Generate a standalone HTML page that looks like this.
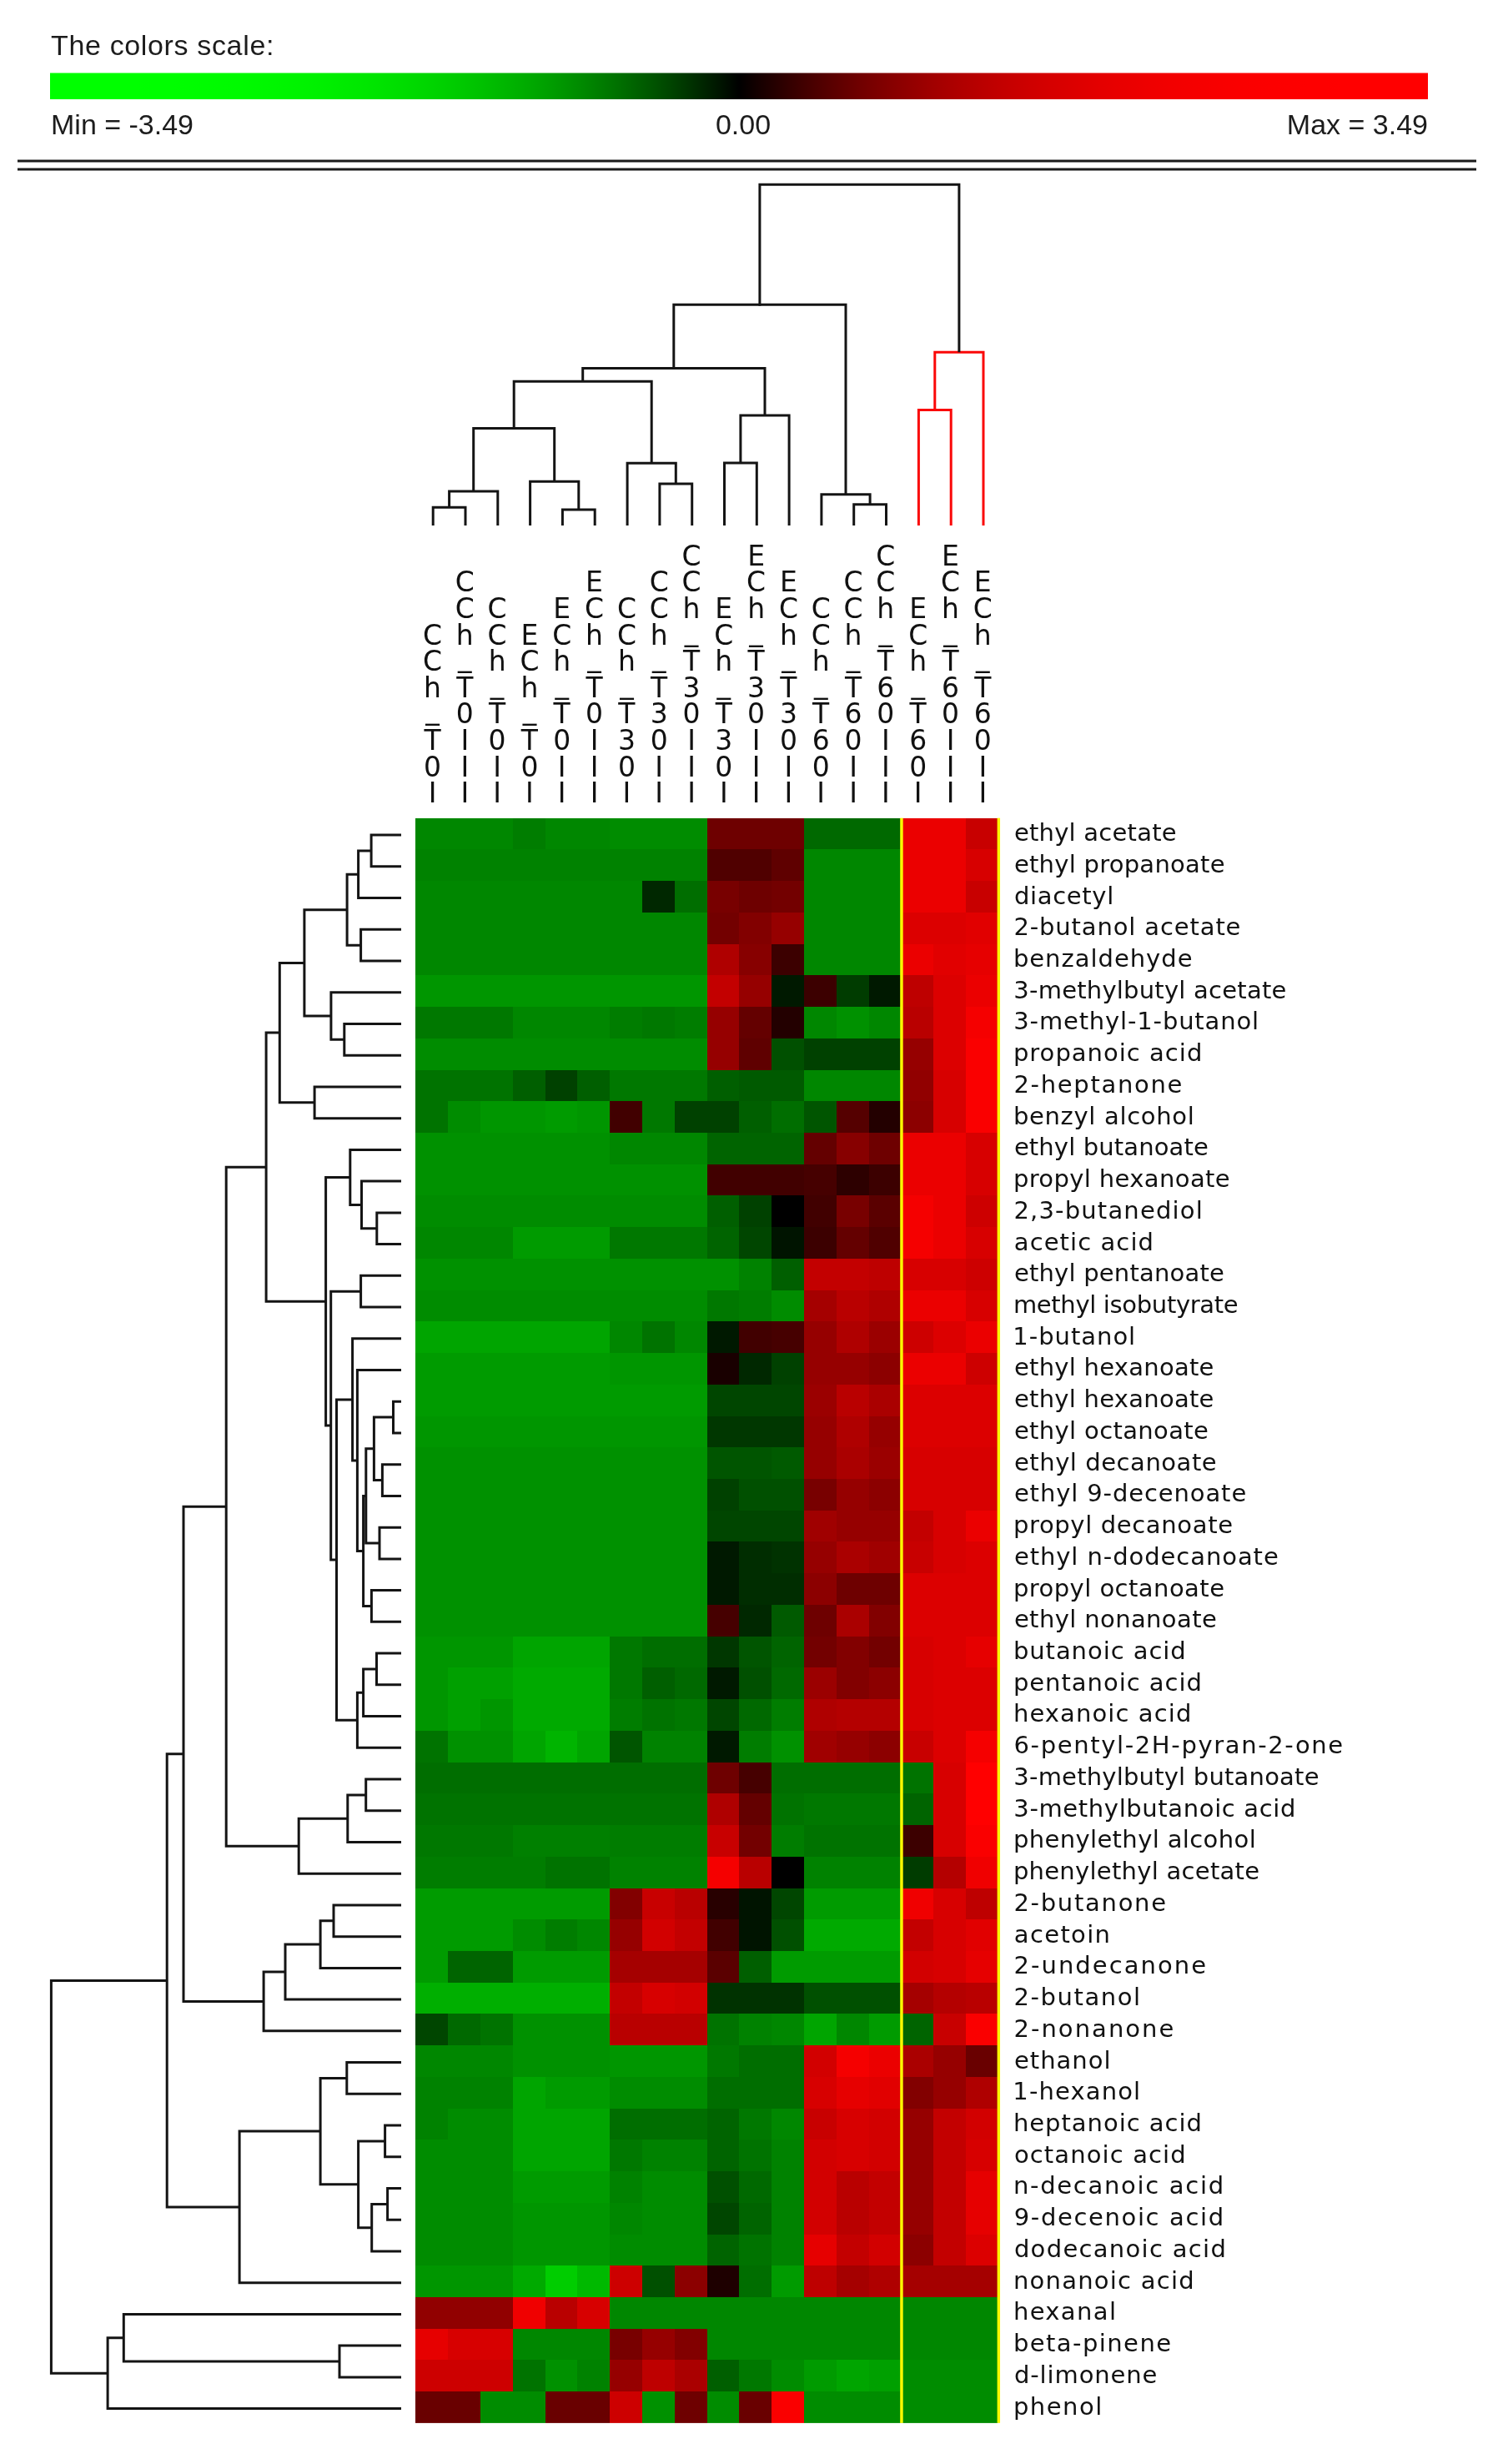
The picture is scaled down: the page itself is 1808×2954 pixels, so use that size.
<!DOCTYPE html>
<html lang="en"><head><meta charset="utf-8"><title>Heatmap</title>
<style>html,body{margin:0;padding:0;background:#fff}svg{display:block;filter:blur(0.55px)}.h{font-family:"Liberation Sans",Arial,sans-serif;font-size:34px;fill:#1c1c1c}.r{font-family:"DejaVu Sans","Liberation Sans",sans-serif;font-size:29px;fill:#111}.c{font-family:"DejaVu Sans","Liberation Sans",sans-serif;font-size:33px;fill:#111;text-anchor:middle}.d{stroke:#141414;stroke-width:3;fill:none;stroke-linecap:square}.dr{stroke:#fa0808;stroke-width:3;fill:none;stroke-linecap:square}</style></head><body>
<svg width="1808" height="2954" viewBox="0 0 1808 2954">
<rect width="1808" height="2954" fill="#fff"/>
<defs><linearGradient id="cs" x1="0" x2="1" y1="0" y2="0">
<stop offset="0.0000" stop-color="#00ff00"/>
<stop offset="0.0125" stop-color="#00ff00"/>
<stop offset="0.0250" stop-color="#00ff00"/>
<stop offset="0.0375" stop-color="#00ff00"/>
<stop offset="0.0500" stop-color="#00ff00"/>
<stop offset="0.0625" stop-color="#00ff00"/>
<stop offset="0.0750" stop-color="#00fe00"/>
<stop offset="0.0875" stop-color="#00fe00"/>
<stop offset="0.1000" stop-color="#00fd00"/>
<stop offset="0.1125" stop-color="#00fc00"/>
<stop offset="0.1250" stop-color="#00fb00"/>
<stop offset="0.1375" stop-color="#00fa00"/>
<stop offset="0.1500" stop-color="#00f800"/>
<stop offset="0.1625" stop-color="#00f600"/>
<stop offset="0.1750" stop-color="#00f400"/>
<stop offset="0.1875" stop-color="#00f200"/>
<stop offset="0.2000" stop-color="#00ef00"/>
<stop offset="0.2125" stop-color="#00eb00"/>
<stop offset="0.2250" stop-color="#00e800"/>
<stop offset="0.2375" stop-color="#00e400"/>
<stop offset="0.2500" stop-color="#00df00"/>
<stop offset="0.2625" stop-color="#00da00"/>
<stop offset="0.2750" stop-color="#00d500"/>
<stop offset="0.2875" stop-color="#00cf00"/>
<stop offset="0.3000" stop-color="#00c800"/>
<stop offset="0.3125" stop-color="#00c100"/>
<stop offset="0.3250" stop-color="#00b900"/>
<stop offset="0.3375" stop-color="#00b100"/>
<stop offset="0.3500" stop-color="#00a800"/>
<stop offset="0.3625" stop-color="#009e00"/>
<stop offset="0.3750" stop-color="#009300"/>
<stop offset="0.3875" stop-color="#008800"/>
<stop offset="0.4000" stop-color="#007c00"/>
<stop offset="0.4125" stop-color="#007000"/>
<stop offset="0.4250" stop-color="#006200"/>
<stop offset="0.4375" stop-color="#005400"/>
<stop offset="0.4500" stop-color="#004500"/>
<stop offset="0.4625" stop-color="#003500"/>
<stop offset="0.4750" stop-color="#002400"/>
<stop offset="0.4875" stop-color="#001300"/>
<stop offset="0.5000" stop-color="#000000"/>
<stop offset="0.5125" stop-color="#130000"/>
<stop offset="0.5250" stop-color="#240000"/>
<stop offset="0.5375" stop-color="#350000"/>
<stop offset="0.5500" stop-color="#450000"/>
<stop offset="0.5625" stop-color="#540000"/>
<stop offset="0.5750" stop-color="#620000"/>
<stop offset="0.5875" stop-color="#700000"/>
<stop offset="0.6000" stop-color="#7c0000"/>
<stop offset="0.6125" stop-color="#880000"/>
<stop offset="0.6250" stop-color="#930000"/>
<stop offset="0.6375" stop-color="#9e0000"/>
<stop offset="0.6500" stop-color="#a80000"/>
<stop offset="0.6625" stop-color="#b10000"/>
<stop offset="0.6750" stop-color="#b90000"/>
<stop offset="0.6875" stop-color="#c10000"/>
<stop offset="0.7000" stop-color="#c80000"/>
<stop offset="0.7125" stop-color="#cf0000"/>
<stop offset="0.7250" stop-color="#d50000"/>
<stop offset="0.7375" stop-color="#da0000"/>
<stop offset="0.7500" stop-color="#df0000"/>
<stop offset="0.7625" stop-color="#e40000"/>
<stop offset="0.7750" stop-color="#e80000"/>
<stop offset="0.7875" stop-color="#eb0000"/>
<stop offset="0.8000" stop-color="#ef0000"/>
<stop offset="0.8125" stop-color="#f20000"/>
<stop offset="0.8250" stop-color="#f40000"/>
<stop offset="0.8375" stop-color="#f60000"/>
<stop offset="0.8500" stop-color="#f80000"/>
<stop offset="0.8625" stop-color="#fa0000"/>
<stop offset="0.8750" stop-color="#fb0000"/>
<stop offset="0.8875" stop-color="#fc0000"/>
<stop offset="0.9000" stop-color="#fd0000"/>
<stop offset="0.9125" stop-color="#fe0000"/>
<stop offset="0.9250" stop-color="#fe0000"/>
<stop offset="0.9375" stop-color="#ff0000"/>
<stop offset="0.9500" stop-color="#ff0000"/>
<stop offset="0.9625" stop-color="#ff0000"/>
<stop offset="0.9750" stop-color="#ff0000"/>
<stop offset="0.9875" stop-color="#ff0000"/>
<stop offset="1.0000" stop-color="#ff0000"/>
</linearGradient></defs>
<text class="h" x="61" y="65.5" letter-spacing="0.65">The colors scale:</text>
<rect x="60" y="87.5" width="1652" height="31.5" fill="url(#cs)"/>
<text class="h" x="61" y="160.5">Min = -3.49</text>
<text class="h" x="891" y="160.5" text-anchor="middle">0.00</text>
<text class="h" x="1712" y="160.5" text-anchor="end">Max = 3.49</text>
<rect x="21" y="191.5" width="1749" height="3" fill="#1a1a1a"/>
<rect x="21" y="201.5" width="1749" height="3" fill="#1a1a1a"/>
<path class="d" d="M519.2 628.5V608.3H558.0V628.5M538.6 608.3V589.0H596.8V628.5M674.4 628.5V611.0H713.2V628.5M635.6 628.5V577.3H693.8V611.0M567.7 589.0V513.4H664.7V577.3M790.9 628.5V580.0H829.7V628.5M752.1 628.5V555.3H810.3V580.0M616.2 513.4V457.3H781.2V555.3M868.5 628.5V554.9H907.3V628.5M887.9 554.9V497.9H946.1V628.5M698.7 457.3V441.5H917.0V497.9M1023.7 628.5V604.8H1062.5V628.5M984.9 628.5V592.8H1043.1V604.8M807.8 441.5V365.3H1014.0V592.8"/>
<path class="dr" d="M1101.4 628.5V491.5H1140.2V628.5M1120.8 491.5V422.3H1179.0V628.5"/>
<path class="d" d="M910.9 365.3V221.2H1149.9V420.8"/>
<text class="c" x="518.5 518.5 518.5 518.5 518.5 518.5 518.5" y="772.5 804.1 835.8 862.4 899.0 930.7 962.3">CCh_T0I</text>
<text class="c" x="557.3 557.3 557.3 557.3 557.3 557.3 557.3 557.3 557.3" y="709.3 740.9 772.5 799.1 835.8 867.4 899.0 930.7 962.3">CCh_T0III</text>
<text class="c" x="596.1 596.1 596.1 596.1 596.1 596.1 596.1 596.1" y="740.9 772.5 804.1 830.8 867.4 899.0 930.7 962.3">CCh_T0II</text>
<text class="c" x="634.9 634.9 634.9 634.9 634.9 634.9 634.9" y="772.5 804.1 835.8 862.4 899.0 930.7 962.3">ECh_T0I</text>
<text class="c" x="673.7 673.7 673.7 673.7 673.7 673.7 673.7 673.7" y="740.9 772.5 804.1 830.8 867.4 899.0 930.7 962.3">ECh_T0II</text>
<text class="c" x="712.5 712.5 712.5 712.5 712.5 712.5 712.5 712.5 712.5" y="709.3 740.9 772.5 799.1 835.8 867.4 899.0 930.7 962.3">ECh_T0III</text>
<text class="c" x="751.4 751.4 751.4 751.4 751.4 751.4 751.4 751.4" y="740.9 772.5 804.1 830.8 867.4 899.0 930.7 962.3">CCh_T30I</text>
<text class="c" x="790.2 790.2 790.2 790.2 790.2 790.2 790.2 790.2 790.2" y="709.3 740.9 772.5 799.1 835.8 867.4 899.0 930.7 962.3">CCh_T30II</text>
<text class="c" x="829.0 829.0 829.0 829.0 829.0 829.0 829.0 829.0 829.0 829.0" y="677.6 709.3 740.9 767.5 804.1 835.8 867.4 899.0 930.7 962.3">CCh_T30III</text>
<text class="c" x="867.8 867.8 867.8 867.8 867.8 867.8 867.8 867.8" y="740.9 772.5 804.1 830.8 867.4 899.0 930.7 962.3">ECh_T30I</text>
<text class="c" x="906.6 906.6 906.6 906.6 906.6 906.6 906.6 906.6 906.6 906.6" y="677.6 709.3 740.9 767.5 804.1 835.8 867.4 899.0 930.7 962.3">ECh_T30III</text>
<text class="c" x="945.4 945.4 945.4 945.4 945.4 945.4 945.4 945.4 945.4" y="709.3 740.9 772.5 799.1 835.8 867.4 899.0 930.7 962.3">ECh_T30II</text>
<text class="c" x="984.2 984.2 984.2 984.2 984.2 984.2 984.2 984.2" y="740.9 772.5 804.1 830.8 867.4 899.0 930.7 962.3">CCh_T60I</text>
<text class="c" x="1023.0 1023.0 1023.0 1023.0 1023.0 1023.0 1023.0 1023.0 1023.0" y="709.3 740.9 772.5 799.1 835.8 867.4 899.0 930.7 962.3">CCh_T60II</text>
<text class="c" x="1061.8 1061.8 1061.8 1061.8 1061.8 1061.8 1061.8 1061.8 1061.8 1061.8" y="677.6 709.3 740.9 767.5 804.1 835.8 867.4 899.0 930.7 962.3">CCh_T60III</text>
<text class="c" x="1100.7 1100.7 1100.7 1100.7 1100.7 1100.7 1100.7 1100.7" y="740.9 772.5 804.1 830.8 867.4 899.0 930.7 962.3">ECh_T60I</text>
<text class="c" x="1139.5 1139.5 1139.5 1139.5 1139.5 1139.5 1139.5 1139.5 1139.5 1139.5" y="677.6 709.3 740.9 767.5 804.1 835.8 867.4 899.0 930.7 962.3">ECh_T60III</text>
<text class="c" x="1178.3 1178.3 1178.3 1178.3 1178.3 1178.3 1178.3 1178.3 1178.3" y="709.3 740.9 772.5 799.1 835.8 867.4 899.0 930.7 962.3">ECh_T60II</text>
<g shape-rendering="crispEdges">
<rect x="498.30" y="980.70" width="116.93" height="38.23" fill="#008700"/>
<rect x="614.73" y="980.70" width="39.31" height="38.23" fill="#007d00"/>
<rect x="653.54" y="980.70" width="78.12" height="38.23" fill="#008700"/>
<rect x="731.16" y="980.70" width="116.93" height="38.23" fill="#008c00"/>
<rect x="847.59" y="980.70" width="116.93" height="38.23" fill="#6e0000"/>
<rect x="964.02" y="980.70" width="116.93" height="38.23" fill="#006900"/>
<rect x="1080.45" y="980.70" width="78.12" height="38.23" fill="#eb0000"/>
<rect x="1158.07" y="980.70" width="39.31" height="38.23" fill="#c80000"/>
<rect x="498.30" y="1018.43" width="349.79" height="38.23" fill="#008200"/>
<rect x="847.59" y="1018.43" width="78.12" height="38.23" fill="#500000"/>
<rect x="925.21" y="1018.43" width="39.31" height="38.23" fill="#5f0000"/>
<rect x="964.02" y="1018.43" width="116.93" height="38.23" fill="#008700"/>
<rect x="1080.45" y="1018.43" width="78.12" height="38.23" fill="#eb0000"/>
<rect x="1158.07" y="1018.43" width="39.31" height="38.23" fill="#d70000"/>
<rect x="498.30" y="1056.16" width="272.17" height="38.23" fill="#008700"/>
<rect x="769.97" y="1056.16" width="39.31" height="38.23" fill="#002800"/>
<rect x="808.78" y="1056.16" width="39.31" height="38.23" fill="#006e00"/>
<rect x="847.59" y="1056.16" width="39.31" height="38.23" fill="#780000"/>
<rect x="886.40" y="1056.16" width="39.31" height="38.23" fill="#6e0000"/>
<rect x="925.21" y="1056.16" width="39.31" height="38.23" fill="#730000"/>
<rect x="964.02" y="1056.16" width="116.93" height="38.23" fill="#008700"/>
<rect x="1080.45" y="1056.16" width="78.12" height="38.23" fill="#eb0000"/>
<rect x="1158.07" y="1056.16" width="39.31" height="38.23" fill="#c80000"/>
<rect x="498.30" y="1093.89" width="349.79" height="38.23" fill="#008700"/>
<rect x="847.59" y="1093.89" width="39.31" height="38.23" fill="#730000"/>
<rect x="886.40" y="1093.89" width="39.31" height="38.23" fill="#820000"/>
<rect x="925.21" y="1093.89" width="39.31" height="38.23" fill="#960000"/>
<rect x="964.02" y="1093.89" width="116.93" height="38.23" fill="#008700"/>
<rect x="1080.45" y="1093.89" width="78.12" height="38.23" fill="#dc0000"/>
<rect x="1158.07" y="1093.89" width="39.31" height="38.23" fill="#e10000"/>
<rect x="498.30" y="1131.62" width="349.79" height="38.23" fill="#008700"/>
<rect x="847.59" y="1131.62" width="39.31" height="38.23" fill="#af0000"/>
<rect x="886.40" y="1131.62" width="39.31" height="38.23" fill="#870000"/>
<rect x="925.21" y="1131.62" width="39.31" height="38.23" fill="#3c0000"/>
<rect x="964.02" y="1131.62" width="116.93" height="38.23" fill="#008700"/>
<rect x="1080.45" y="1131.62" width="39.31" height="38.23" fill="#eb0000"/>
<rect x="1119.26" y="1131.62" width="39.31" height="38.23" fill="#e10000"/>
<rect x="1158.07" y="1131.62" width="39.31" height="38.23" fill="#e60000"/>
<rect x="498.30" y="1169.35" width="349.79" height="38.23" fill="#009600"/>
<rect x="847.59" y="1169.35" width="39.31" height="38.23" fill="#c30000"/>
<rect x="886.40" y="1169.35" width="39.31" height="38.23" fill="#960000"/>
<rect x="925.21" y="1169.35" width="39.31" height="38.23" fill="#001900"/>
<rect x="964.02" y="1169.35" width="39.31" height="38.23" fill="#3c0000"/>
<rect x="1002.83" y="1169.35" width="39.31" height="38.23" fill="#003c00"/>
<rect x="1041.64" y="1169.35" width="39.31" height="38.23" fill="#001900"/>
<rect x="1080.45" y="1169.35" width="39.31" height="38.23" fill="#be0000"/>
<rect x="1119.26" y="1169.35" width="39.31" height="38.23" fill="#dc0000"/>
<rect x="1158.07" y="1169.35" width="39.31" height="38.23" fill="#eb0000"/>
<rect x="498.30" y="1207.08" width="116.93" height="38.23" fill="#007800"/>
<rect x="614.73" y="1207.08" width="116.93" height="38.23" fill="#008700"/>
<rect x="731.16" y="1207.08" width="39.31" height="38.23" fill="#007d00"/>
<rect x="769.97" y="1207.08" width="39.31" height="38.23" fill="#007800"/>
<rect x="808.78" y="1207.08" width="39.31" height="38.23" fill="#007d00"/>
<rect x="847.59" y="1207.08" width="39.31" height="38.23" fill="#960000"/>
<rect x="886.40" y="1207.08" width="39.31" height="38.23" fill="#640000"/>
<rect x="925.21" y="1207.08" width="39.31" height="38.23" fill="#230000"/>
<rect x="964.02" y="1207.08" width="39.31" height="38.23" fill="#008700"/>
<rect x="1002.83" y="1207.08" width="39.31" height="38.23" fill="#009100"/>
<rect x="1041.64" y="1207.08" width="39.31" height="38.23" fill="#008700"/>
<rect x="1080.45" y="1207.08" width="39.31" height="38.23" fill="#b90000"/>
<rect x="1119.26" y="1207.08" width="39.31" height="38.23" fill="#dc0000"/>
<rect x="1158.07" y="1207.08" width="39.31" height="38.23" fill="#f50000"/>
<rect x="498.30" y="1244.81" width="349.79" height="38.23" fill="#008c00"/>
<rect x="847.59" y="1244.81" width="39.31" height="38.23" fill="#960000"/>
<rect x="886.40" y="1244.81" width="39.31" height="38.23" fill="#5f0000"/>
<rect x="925.21" y="1244.81" width="39.31" height="38.23" fill="#005000"/>
<rect x="964.02" y="1244.81" width="116.93" height="38.23" fill="#004100"/>
<rect x="1080.45" y="1244.81" width="39.31" height="38.23" fill="#960000"/>
<rect x="1119.26" y="1244.81" width="39.31" height="38.23" fill="#dc0000"/>
<rect x="1158.07" y="1244.81" width="39.31" height="38.23" fill="#fa0000"/>
<rect x="498.30" y="1282.54" width="116.93" height="38.23" fill="#007300"/>
<rect x="614.73" y="1282.54" width="39.31" height="38.23" fill="#005f00"/>
<rect x="653.54" y="1282.54" width="39.31" height="38.23" fill="#004100"/>
<rect x="692.35" y="1282.54" width="39.31" height="38.23" fill="#005f00"/>
<rect x="731.16" y="1282.54" width="116.93" height="38.23" fill="#007800"/>
<rect x="847.59" y="1282.54" width="39.31" height="38.23" fill="#005f00"/>
<rect x="886.40" y="1282.54" width="78.12" height="38.23" fill="#005a00"/>
<rect x="964.02" y="1282.54" width="116.93" height="38.23" fill="#008700"/>
<rect x="1080.45" y="1282.54" width="39.31" height="38.23" fill="#910000"/>
<rect x="1119.26" y="1282.54" width="39.31" height="38.23" fill="#d70000"/>
<rect x="1158.07" y="1282.54" width="39.31" height="38.23" fill="#fa0000"/>
<rect x="498.30" y="1320.27" width="39.31" height="38.23" fill="#007300"/>
<rect x="537.11" y="1320.27" width="39.31" height="38.23" fill="#008c00"/>
<rect x="575.92" y="1320.27" width="78.12" height="38.23" fill="#009600"/>
<rect x="653.54" y="1320.27" width="39.31" height="38.23" fill="#009b00"/>
<rect x="692.35" y="1320.27" width="39.31" height="38.23" fill="#009600"/>
<rect x="731.16" y="1320.27" width="39.31" height="38.23" fill="#410000"/>
<rect x="769.97" y="1320.27" width="39.31" height="38.23" fill="#007800"/>
<rect x="808.78" y="1320.27" width="78.12" height="38.23" fill="#004100"/>
<rect x="886.40" y="1320.27" width="39.31" height="38.23" fill="#005f00"/>
<rect x="925.21" y="1320.27" width="39.31" height="38.23" fill="#006e00"/>
<rect x="964.02" y="1320.27" width="39.31" height="38.23" fill="#005500"/>
<rect x="1002.83" y="1320.27" width="39.31" height="38.23" fill="#550000"/>
<rect x="1041.64" y="1320.27" width="39.31" height="38.23" fill="#230000"/>
<rect x="1080.45" y="1320.27" width="39.31" height="38.23" fill="#8c0000"/>
<rect x="1119.26" y="1320.27" width="39.31" height="38.23" fill="#d70000"/>
<rect x="1158.07" y="1320.27" width="39.31" height="38.23" fill="#fa0000"/>
<rect x="498.30" y="1358.00" width="233.36" height="38.23" fill="#009100"/>
<rect x="731.16" y="1358.00" width="116.93" height="38.23" fill="#008700"/>
<rect x="847.59" y="1358.00" width="116.93" height="38.23" fill="#006400"/>
<rect x="964.02" y="1358.00" width="39.31" height="38.23" fill="#640000"/>
<rect x="1002.83" y="1358.00" width="39.31" height="38.23" fill="#870000"/>
<rect x="1041.64" y="1358.00" width="39.31" height="38.23" fill="#6e0000"/>
<rect x="1080.45" y="1358.00" width="78.12" height="38.23" fill="#eb0000"/>
<rect x="1158.07" y="1358.00" width="39.31" height="38.23" fill="#d70000"/>
<rect x="498.30" y="1395.73" width="349.79" height="38.23" fill="#009100"/>
<rect x="847.59" y="1395.73" width="116.93" height="38.23" fill="#410000"/>
<rect x="964.02" y="1395.73" width="39.31" height="38.23" fill="#460000"/>
<rect x="1002.83" y="1395.73" width="39.31" height="38.23" fill="#2d0000"/>
<rect x="1041.64" y="1395.73" width="39.31" height="38.23" fill="#3c0000"/>
<rect x="1080.45" y="1395.73" width="78.12" height="38.23" fill="#eb0000"/>
<rect x="1158.07" y="1395.73" width="39.31" height="38.23" fill="#d70000"/>
<rect x="498.30" y="1433.46" width="349.79" height="38.23" fill="#008c00"/>
<rect x="847.59" y="1433.46" width="39.31" height="38.23" fill="#005f00"/>
<rect x="886.40" y="1433.46" width="39.31" height="38.23" fill="#004100"/>
<rect x="925.21" y="1433.46" width="39.31" height="38.23" fill="#000000"/>
<rect x="964.02" y="1433.46" width="39.31" height="38.23" fill="#410000"/>
<rect x="1002.83" y="1433.46" width="39.31" height="38.23" fill="#780000"/>
<rect x="1041.64" y="1433.46" width="39.31" height="38.23" fill="#5a0000"/>
<rect x="1080.45" y="1433.46" width="39.31" height="38.23" fill="#f50000"/>
<rect x="1119.26" y="1433.46" width="39.31" height="38.23" fill="#eb0000"/>
<rect x="1158.07" y="1433.46" width="39.31" height="38.23" fill="#cd0000"/>
<rect x="498.30" y="1471.19" width="116.93" height="38.23" fill="#008700"/>
<rect x="614.73" y="1471.19" width="116.93" height="38.23" fill="#009b00"/>
<rect x="731.16" y="1471.19" width="116.93" height="38.23" fill="#007800"/>
<rect x="847.59" y="1471.19" width="39.31" height="38.23" fill="#006400"/>
<rect x="886.40" y="1471.19" width="39.31" height="38.23" fill="#004600"/>
<rect x="925.21" y="1471.19" width="39.31" height="38.23" fill="#001400"/>
<rect x="964.02" y="1471.19" width="39.31" height="38.23" fill="#3c0000"/>
<rect x="1002.83" y="1471.19" width="39.31" height="38.23" fill="#640000"/>
<rect x="1041.64" y="1471.19" width="39.31" height="38.23" fill="#500000"/>
<rect x="1080.45" y="1471.19" width="39.31" height="38.23" fill="#f50000"/>
<rect x="1119.26" y="1471.19" width="39.31" height="38.23" fill="#eb0000"/>
<rect x="1158.07" y="1471.19" width="39.31" height="38.23" fill="#d70000"/>
<rect x="498.30" y="1508.92" width="388.60" height="38.23" fill="#009100"/>
<rect x="886.40" y="1508.92" width="39.31" height="38.23" fill="#008200"/>
<rect x="925.21" y="1508.92" width="39.31" height="38.23" fill="#005f00"/>
<rect x="964.02" y="1508.92" width="78.12" height="38.23" fill="#c30000"/>
<rect x="1041.64" y="1508.92" width="39.31" height="38.23" fill="#be0000"/>
<rect x="1080.45" y="1508.92" width="78.12" height="38.23" fill="#d70000"/>
<rect x="1158.07" y="1508.92" width="39.31" height="38.23" fill="#cd0000"/>
<rect x="498.30" y="1546.65" width="349.79" height="38.23" fill="#008c00"/>
<rect x="847.59" y="1546.65" width="39.31" height="38.23" fill="#007800"/>
<rect x="886.40" y="1546.65" width="39.31" height="38.23" fill="#007d00"/>
<rect x="925.21" y="1546.65" width="39.31" height="38.23" fill="#008c00"/>
<rect x="964.02" y="1546.65" width="39.31" height="38.23" fill="#a50000"/>
<rect x="1002.83" y="1546.65" width="39.31" height="38.23" fill="#b90000"/>
<rect x="1041.64" y="1546.65" width="39.31" height="38.23" fill="#af0000"/>
<rect x="1080.45" y="1546.65" width="78.12" height="38.23" fill="#eb0000"/>
<rect x="1158.07" y="1546.65" width="39.31" height="38.23" fill="#d70000"/>
<rect x="498.30" y="1584.38" width="233.36" height="38.23" fill="#00a500"/>
<rect x="731.16" y="1584.38" width="39.31" height="38.23" fill="#008700"/>
<rect x="769.97" y="1584.38" width="39.31" height="38.23" fill="#007300"/>
<rect x="808.78" y="1584.38" width="39.31" height="38.23" fill="#008700"/>
<rect x="847.59" y="1584.38" width="39.31" height="38.23" fill="#001900"/>
<rect x="886.40" y="1584.38" width="39.31" height="38.23" fill="#410000"/>
<rect x="925.21" y="1584.38" width="39.31" height="38.23" fill="#460000"/>
<rect x="964.02" y="1584.38" width="39.31" height="38.23" fill="#960000"/>
<rect x="1002.83" y="1584.38" width="39.31" height="38.23" fill="#af0000"/>
<rect x="1041.64" y="1584.38" width="39.31" height="38.23" fill="#9b0000"/>
<rect x="1080.45" y="1584.38" width="39.31" height="38.23" fill="#cd0000"/>
<rect x="1119.26" y="1584.38" width="39.31" height="38.23" fill="#dc0000"/>
<rect x="1158.07" y="1584.38" width="39.31" height="38.23" fill="#eb0000"/>
<rect x="498.30" y="1622.11" width="233.36" height="38.23" fill="#009b00"/>
<rect x="731.16" y="1622.11" width="116.93" height="38.23" fill="#009600"/>
<rect x="847.59" y="1622.11" width="39.31" height="38.23" fill="#190000"/>
<rect x="886.40" y="1622.11" width="39.31" height="38.23" fill="#002800"/>
<rect x="925.21" y="1622.11" width="39.31" height="38.23" fill="#004100"/>
<rect x="964.02" y="1622.11" width="78.12" height="38.23" fill="#960000"/>
<rect x="1041.64" y="1622.11" width="39.31" height="38.23" fill="#8c0000"/>
<rect x="1080.45" y="1622.11" width="78.12" height="38.23" fill="#eb0000"/>
<rect x="1158.07" y="1622.11" width="39.31" height="38.23" fill="#cd0000"/>
<rect x="498.30" y="1659.84" width="349.79" height="38.23" fill="#009b00"/>
<rect x="847.59" y="1659.84" width="116.93" height="38.23" fill="#004600"/>
<rect x="964.02" y="1659.84" width="39.31" height="38.23" fill="#9b0000"/>
<rect x="1002.83" y="1659.84" width="39.31" height="38.23" fill="#b90000"/>
<rect x="1041.64" y="1659.84" width="39.31" height="38.23" fill="#aa0000"/>
<rect x="1080.45" y="1659.84" width="116.93" height="38.23" fill="#dc0000"/>
<rect x="498.30" y="1697.57" width="349.79" height="38.23" fill="#009600"/>
<rect x="847.59" y="1697.57" width="116.93" height="38.23" fill="#003700"/>
<rect x="964.02" y="1697.57" width="39.31" height="38.23" fill="#960000"/>
<rect x="1002.83" y="1697.57" width="39.31" height="38.23" fill="#af0000"/>
<rect x="1041.64" y="1697.57" width="39.31" height="38.23" fill="#960000"/>
<rect x="1080.45" y="1697.57" width="116.93" height="38.23" fill="#dc0000"/>
<rect x="498.30" y="1735.30" width="349.79" height="38.23" fill="#009100"/>
<rect x="847.59" y="1735.30" width="78.12" height="38.23" fill="#005500"/>
<rect x="925.21" y="1735.30" width="39.31" height="38.23" fill="#005a00"/>
<rect x="964.02" y="1735.30" width="39.31" height="38.23" fill="#960000"/>
<rect x="1002.83" y="1735.30" width="39.31" height="38.23" fill="#aa0000"/>
<rect x="1041.64" y="1735.30" width="39.31" height="38.23" fill="#9b0000"/>
<rect x="1080.45" y="1735.30" width="116.93" height="38.23" fill="#d70000"/>
<rect x="498.30" y="1773.03" width="349.79" height="38.23" fill="#009100"/>
<rect x="847.59" y="1773.03" width="39.31" height="38.23" fill="#004100"/>
<rect x="886.40" y="1773.03" width="78.12" height="38.23" fill="#005000"/>
<rect x="964.02" y="1773.03" width="39.31" height="38.23" fill="#780000"/>
<rect x="1002.83" y="1773.03" width="39.31" height="38.23" fill="#960000"/>
<rect x="1041.64" y="1773.03" width="39.31" height="38.23" fill="#8c0000"/>
<rect x="1080.45" y="1773.03" width="116.93" height="38.23" fill="#d70000"/>
<rect x="498.30" y="1810.76" width="349.79" height="38.23" fill="#009100"/>
<rect x="847.59" y="1810.76" width="116.93" height="38.23" fill="#004600"/>
<rect x="964.02" y="1810.76" width="39.31" height="38.23" fill="#a00000"/>
<rect x="1002.83" y="1810.76" width="78.12" height="38.23" fill="#960000"/>
<rect x="1080.45" y="1810.76" width="39.31" height="38.23" fill="#c30000"/>
<rect x="1119.26" y="1810.76" width="39.31" height="38.23" fill="#d70000"/>
<rect x="1158.07" y="1810.76" width="39.31" height="38.23" fill="#eb0000"/>
<rect x="498.30" y="1848.49" width="349.79" height="38.23" fill="#009100"/>
<rect x="847.59" y="1848.49" width="39.31" height="38.23" fill="#001900"/>
<rect x="886.40" y="1848.49" width="39.31" height="38.23" fill="#002d00"/>
<rect x="925.21" y="1848.49" width="39.31" height="38.23" fill="#003200"/>
<rect x="964.02" y="1848.49" width="39.31" height="38.23" fill="#960000"/>
<rect x="1002.83" y="1848.49" width="39.31" height="38.23" fill="#aa0000"/>
<rect x="1041.64" y="1848.49" width="39.31" height="38.23" fill="#a00000"/>
<rect x="1080.45" y="1848.49" width="39.31" height="38.23" fill="#c80000"/>
<rect x="1119.26" y="1848.49" width="39.31" height="38.23" fill="#d70000"/>
<rect x="1158.07" y="1848.49" width="39.31" height="38.23" fill="#dc0000"/>
<rect x="498.30" y="1886.22" width="349.79" height="38.23" fill="#009100"/>
<rect x="847.59" y="1886.22" width="39.31" height="38.23" fill="#001900"/>
<rect x="886.40" y="1886.22" width="78.12" height="38.23" fill="#002d00"/>
<rect x="964.02" y="1886.22" width="39.31" height="38.23" fill="#8c0000"/>
<rect x="1002.83" y="1886.22" width="78.12" height="38.23" fill="#6e0000"/>
<rect x="1080.45" y="1886.22" width="116.93" height="38.23" fill="#dc0000"/>
<rect x="498.30" y="1923.95" width="349.79" height="38.23" fill="#009100"/>
<rect x="847.59" y="1923.95" width="39.31" height="38.23" fill="#460000"/>
<rect x="886.40" y="1923.95" width="39.31" height="38.23" fill="#002800"/>
<rect x="925.21" y="1923.95" width="39.31" height="38.23" fill="#005a00"/>
<rect x="964.02" y="1923.95" width="39.31" height="38.23" fill="#6e0000"/>
<rect x="1002.83" y="1923.95" width="39.31" height="38.23" fill="#aa0000"/>
<rect x="1041.64" y="1923.95" width="39.31" height="38.23" fill="#820000"/>
<rect x="1080.45" y="1923.95" width="116.93" height="38.23" fill="#dc0000"/>
<rect x="498.30" y="1961.68" width="116.93" height="38.23" fill="#009600"/>
<rect x="614.73" y="1961.68" width="116.93" height="38.23" fill="#00a500"/>
<rect x="731.16" y="1961.68" width="39.31" height="38.23" fill="#007800"/>
<rect x="769.97" y="1961.68" width="78.12" height="38.23" fill="#006e00"/>
<rect x="847.59" y="1961.68" width="39.31" height="38.23" fill="#003700"/>
<rect x="886.40" y="1961.68" width="39.31" height="38.23" fill="#005500"/>
<rect x="925.21" y="1961.68" width="39.31" height="38.23" fill="#006400"/>
<rect x="964.02" y="1961.68" width="39.31" height="38.23" fill="#730000"/>
<rect x="1002.83" y="1961.68" width="39.31" height="38.23" fill="#820000"/>
<rect x="1041.64" y="1961.68" width="39.31" height="38.23" fill="#730000"/>
<rect x="1080.45" y="1961.68" width="39.31" height="38.23" fill="#d70000"/>
<rect x="1119.26" y="1961.68" width="39.31" height="38.23" fill="#dc0000"/>
<rect x="1158.07" y="1961.68" width="39.31" height="38.23" fill="#e60000"/>
<rect x="498.30" y="1999.41" width="39.31" height="38.23" fill="#009600"/>
<rect x="537.11" y="1999.41" width="78.12" height="38.23" fill="#00a000"/>
<rect x="614.73" y="1999.41" width="116.93" height="38.23" fill="#00aa00"/>
<rect x="731.16" y="1999.41" width="39.31" height="38.23" fill="#007800"/>
<rect x="769.97" y="1999.41" width="39.31" height="38.23" fill="#005f00"/>
<rect x="808.78" y="1999.41" width="39.31" height="38.23" fill="#006900"/>
<rect x="847.59" y="1999.41" width="39.31" height="38.23" fill="#001900"/>
<rect x="886.40" y="1999.41" width="39.31" height="38.23" fill="#005000"/>
<rect x="925.21" y="1999.41" width="39.31" height="38.23" fill="#006900"/>
<rect x="964.02" y="1999.41" width="39.31" height="38.23" fill="#9b0000"/>
<rect x="1002.83" y="1999.41" width="39.31" height="38.23" fill="#820000"/>
<rect x="1041.64" y="1999.41" width="39.31" height="38.23" fill="#8c0000"/>
<rect x="1080.45" y="1999.41" width="39.31" height="38.23" fill="#d70000"/>
<rect x="1119.26" y="1999.41" width="78.12" height="38.23" fill="#dc0000"/>
<rect x="498.30" y="2037.14" width="39.31" height="38.23" fill="#009600"/>
<rect x="537.11" y="2037.14" width="39.31" height="38.23" fill="#00a000"/>
<rect x="575.92" y="2037.14" width="39.31" height="38.23" fill="#009600"/>
<rect x="614.73" y="2037.14" width="116.93" height="38.23" fill="#00aa00"/>
<rect x="731.16" y="2037.14" width="39.31" height="38.23" fill="#007d00"/>
<rect x="769.97" y="2037.14" width="39.31" height="38.23" fill="#007300"/>
<rect x="808.78" y="2037.14" width="39.31" height="38.23" fill="#007800"/>
<rect x="847.59" y="2037.14" width="39.31" height="38.23" fill="#004600"/>
<rect x="886.40" y="2037.14" width="39.31" height="38.23" fill="#006900"/>
<rect x="925.21" y="2037.14" width="39.31" height="38.23" fill="#007d00"/>
<rect x="964.02" y="2037.14" width="39.31" height="38.23" fill="#af0000"/>
<rect x="1002.83" y="2037.14" width="78.12" height="38.23" fill="#b40000"/>
<rect x="1080.45" y="2037.14" width="39.31" height="38.23" fill="#d70000"/>
<rect x="1119.26" y="2037.14" width="78.12" height="38.23" fill="#dc0000"/>
<rect x="498.30" y="2074.87" width="39.31" height="38.23" fill="#007300"/>
<rect x="537.11" y="2074.87" width="78.12" height="38.23" fill="#009100"/>
<rect x="614.73" y="2074.87" width="39.31" height="38.23" fill="#00a500"/>
<rect x="653.54" y="2074.87" width="39.31" height="38.23" fill="#00b400"/>
<rect x="692.35" y="2074.87" width="39.31" height="38.23" fill="#00a500"/>
<rect x="731.16" y="2074.87" width="39.31" height="38.23" fill="#005500"/>
<rect x="769.97" y="2074.87" width="78.12" height="38.23" fill="#008200"/>
<rect x="847.59" y="2074.87" width="39.31" height="38.23" fill="#001900"/>
<rect x="886.40" y="2074.87" width="39.31" height="38.23" fill="#007d00"/>
<rect x="925.21" y="2074.87" width="39.31" height="38.23" fill="#009100"/>
<rect x="964.02" y="2074.87" width="39.31" height="38.23" fill="#a00000"/>
<rect x="1002.83" y="2074.87" width="39.31" height="38.23" fill="#960000"/>
<rect x="1041.64" y="2074.87" width="39.31" height="38.23" fill="#8c0000"/>
<rect x="1080.45" y="2074.87" width="39.31" height="38.23" fill="#c80000"/>
<rect x="1119.26" y="2074.87" width="39.31" height="38.23" fill="#dc0000"/>
<rect x="1158.07" y="2074.87" width="39.31" height="38.23" fill="#f50000"/>
<rect x="498.30" y="2112.60" width="349.79" height="38.23" fill="#006e00"/>
<rect x="847.59" y="2112.60" width="39.31" height="38.23" fill="#6e0000"/>
<rect x="886.40" y="2112.60" width="39.31" height="38.23" fill="#460000"/>
<rect x="925.21" y="2112.60" width="155.74" height="38.23" fill="#006e00"/>
<rect x="1080.45" y="2112.60" width="39.31" height="38.23" fill="#007300"/>
<rect x="1119.26" y="2112.60" width="39.31" height="38.23" fill="#d70000"/>
<rect x="1158.07" y="2112.60" width="39.31" height="38.23" fill="#ff0000"/>
<rect x="498.30" y="2150.33" width="349.79" height="38.23" fill="#007300"/>
<rect x="847.59" y="2150.33" width="39.31" height="38.23" fill="#af0000"/>
<rect x="886.40" y="2150.33" width="39.31" height="38.23" fill="#640000"/>
<rect x="925.21" y="2150.33" width="39.31" height="38.23" fill="#007300"/>
<rect x="964.02" y="2150.33" width="116.93" height="38.23" fill="#007800"/>
<rect x="1080.45" y="2150.33" width="39.31" height="38.23" fill="#006400"/>
<rect x="1119.26" y="2150.33" width="39.31" height="38.23" fill="#d70000"/>
<rect x="1158.07" y="2150.33" width="39.31" height="38.23" fill="#ff0000"/>
<rect x="498.30" y="2188.06" width="116.93" height="38.23" fill="#007800"/>
<rect x="614.73" y="2188.06" width="116.93" height="38.23" fill="#008000"/>
<rect x="731.16" y="2188.06" width="116.93" height="38.23" fill="#007d00"/>
<rect x="847.59" y="2188.06" width="39.31" height="38.23" fill="#c80000"/>
<rect x="886.40" y="2188.06" width="39.31" height="38.23" fill="#730000"/>
<rect x="925.21" y="2188.06" width="39.31" height="38.23" fill="#007d00"/>
<rect x="964.02" y="2188.06" width="116.93" height="38.23" fill="#007300"/>
<rect x="1080.45" y="2188.06" width="39.31" height="38.23" fill="#3c0000"/>
<rect x="1119.26" y="2188.06" width="39.31" height="38.23" fill="#d70000"/>
<rect x="1158.07" y="2188.06" width="39.31" height="38.23" fill="#fa0000"/>
<rect x="498.30" y="2225.79" width="155.74" height="38.23" fill="#007d00"/>
<rect x="653.54" y="2225.79" width="78.12" height="38.23" fill="#007300"/>
<rect x="731.16" y="2225.79" width="116.93" height="38.23" fill="#008200"/>
<rect x="847.59" y="2225.79" width="39.31" height="38.23" fill="#f50000"/>
<rect x="886.40" y="2225.79" width="39.31" height="38.23" fill="#b90000"/>
<rect x="925.21" y="2225.79" width="39.31" height="38.23" fill="#000000"/>
<rect x="964.02" y="2225.79" width="116.93" height="38.23" fill="#008200"/>
<rect x="1080.45" y="2225.79" width="39.31" height="38.23" fill="#003c00"/>
<rect x="1119.26" y="2225.79" width="39.31" height="38.23" fill="#b40000"/>
<rect x="1158.07" y="2225.79" width="39.31" height="38.23" fill="#f00000"/>
<rect x="498.30" y="2263.52" width="233.36" height="38.23" fill="#009b00"/>
<rect x="731.16" y="2263.52" width="39.31" height="38.23" fill="#820000"/>
<rect x="769.97" y="2263.52" width="39.31" height="38.23" fill="#c80000"/>
<rect x="808.78" y="2263.52" width="39.31" height="38.23" fill="#b90000"/>
<rect x="847.59" y="2263.52" width="39.31" height="38.23" fill="#280000"/>
<rect x="886.40" y="2263.52" width="39.31" height="38.23" fill="#001400"/>
<rect x="925.21" y="2263.52" width="39.31" height="38.23" fill="#004600"/>
<rect x="964.02" y="2263.52" width="116.93" height="38.23" fill="#009b00"/>
<rect x="1080.45" y="2263.52" width="39.31" height="38.23" fill="#f00000"/>
<rect x="1119.26" y="2263.52" width="39.31" height="38.23" fill="#d70000"/>
<rect x="1158.07" y="2263.52" width="39.31" height="38.23" fill="#be0000"/>
<rect x="498.30" y="2301.25" width="116.93" height="38.23" fill="#009b00"/>
<rect x="614.73" y="2301.25" width="39.31" height="38.23" fill="#008c00"/>
<rect x="653.54" y="2301.25" width="39.31" height="38.23" fill="#007d00"/>
<rect x="692.35" y="2301.25" width="39.31" height="38.23" fill="#008700"/>
<rect x="731.16" y="2301.25" width="39.31" height="38.23" fill="#960000"/>
<rect x="769.97" y="2301.25" width="39.31" height="38.23" fill="#d20000"/>
<rect x="808.78" y="2301.25" width="39.31" height="38.23" fill="#c30000"/>
<rect x="847.59" y="2301.25" width="39.31" height="38.23" fill="#410000"/>
<rect x="886.40" y="2301.25" width="39.31" height="38.23" fill="#001400"/>
<rect x="925.21" y="2301.25" width="39.31" height="38.23" fill="#005000"/>
<rect x="964.02" y="2301.25" width="116.93" height="38.23" fill="#00aa00"/>
<rect x="1080.45" y="2301.25" width="39.31" height="38.23" fill="#c30000"/>
<rect x="1119.26" y="2301.25" width="39.31" height="38.23" fill="#d70000"/>
<rect x="1158.07" y="2301.25" width="39.31" height="38.23" fill="#e10000"/>
<rect x="498.30" y="2338.98" width="39.31" height="38.23" fill="#009b00"/>
<rect x="537.11" y="2338.98" width="78.12" height="38.23" fill="#006400"/>
<rect x="614.73" y="2338.98" width="116.93" height="38.23" fill="#009b00"/>
<rect x="731.16" y="2338.98" width="116.93" height="38.23" fill="#a50000"/>
<rect x="847.59" y="2338.98" width="39.31" height="38.23" fill="#5a0000"/>
<rect x="886.40" y="2338.98" width="39.31" height="38.23" fill="#005f00"/>
<rect x="925.21" y="2338.98" width="155.74" height="38.23" fill="#009b00"/>
<rect x="1080.45" y="2338.98" width="39.31" height="38.23" fill="#d20000"/>
<rect x="1119.26" y="2338.98" width="39.31" height="38.23" fill="#d70000"/>
<rect x="1158.07" y="2338.98" width="39.31" height="38.23" fill="#e60000"/>
<rect x="498.30" y="2376.71" width="233.36" height="38.23" fill="#00af00"/>
<rect x="731.16" y="2376.71" width="39.31" height="38.23" fill="#c30000"/>
<rect x="769.97" y="2376.71" width="39.31" height="38.23" fill="#d70000"/>
<rect x="808.78" y="2376.71" width="39.31" height="38.23" fill="#d20000"/>
<rect x="847.59" y="2376.71" width="116.93" height="38.23" fill="#003200"/>
<rect x="964.02" y="2376.71" width="116.93" height="38.23" fill="#005000"/>
<rect x="1080.45" y="2376.71" width="39.31" height="38.23" fill="#a50000"/>
<rect x="1119.26" y="2376.71" width="39.31" height="38.23" fill="#b40000"/>
<rect x="1158.07" y="2376.71" width="39.31" height="38.23" fill="#b90000"/>
<rect x="498.30" y="2414.44" width="39.31" height="38.23" fill="#004600"/>
<rect x="537.11" y="2414.44" width="39.31" height="38.23" fill="#006900"/>
<rect x="575.92" y="2414.44" width="39.31" height="38.23" fill="#007300"/>
<rect x="614.73" y="2414.44" width="116.93" height="38.23" fill="#009100"/>
<rect x="731.16" y="2414.44" width="116.93" height="38.23" fill="#b90000"/>
<rect x="847.59" y="2414.44" width="39.31" height="38.23" fill="#007300"/>
<rect x="886.40" y="2414.44" width="39.31" height="38.23" fill="#008200"/>
<rect x="925.21" y="2414.44" width="39.31" height="38.23" fill="#008700"/>
<rect x="964.02" y="2414.44" width="39.31" height="38.23" fill="#00a500"/>
<rect x="1002.83" y="2414.44" width="39.31" height="38.23" fill="#008700"/>
<rect x="1041.64" y="2414.44" width="39.31" height="38.23" fill="#009b00"/>
<rect x="1080.45" y="2414.44" width="39.31" height="38.23" fill="#006400"/>
<rect x="1119.26" y="2414.44" width="39.31" height="38.23" fill="#c80000"/>
<rect x="1158.07" y="2414.44" width="39.31" height="38.23" fill="#fa0000"/>
<rect x="498.30" y="2452.17" width="116.93" height="38.23" fill="#008700"/>
<rect x="614.73" y="2452.17" width="116.93" height="38.23" fill="#009100"/>
<rect x="731.16" y="2452.17" width="116.93" height="38.23" fill="#009600"/>
<rect x="847.59" y="2452.17" width="39.31" height="38.23" fill="#007800"/>
<rect x="886.40" y="2452.17" width="78.12" height="38.23" fill="#006e00"/>
<rect x="964.02" y="2452.17" width="39.31" height="38.23" fill="#d20000"/>
<rect x="1002.83" y="2452.17" width="39.31" height="38.23" fill="#f50000"/>
<rect x="1041.64" y="2452.17" width="39.31" height="38.23" fill="#eb0000"/>
<rect x="1080.45" y="2452.17" width="39.31" height="38.23" fill="#aa0000"/>
<rect x="1119.26" y="2452.17" width="39.31" height="38.23" fill="#960000"/>
<rect x="1158.07" y="2452.17" width="39.31" height="38.23" fill="#690000"/>
<rect x="498.30" y="2489.90" width="116.93" height="38.23" fill="#008200"/>
<rect x="614.73" y="2489.90" width="39.31" height="38.23" fill="#00a500"/>
<rect x="653.54" y="2489.90" width="78.12" height="38.23" fill="#009b00"/>
<rect x="731.16" y="2489.90" width="116.93" height="38.23" fill="#008c00"/>
<rect x="847.59" y="2489.90" width="116.93" height="38.23" fill="#006e00"/>
<rect x="964.02" y="2489.90" width="39.31" height="38.23" fill="#d70000"/>
<rect x="1002.83" y="2489.90" width="39.31" height="38.23" fill="#e60000"/>
<rect x="1041.64" y="2489.90" width="39.31" height="38.23" fill="#e10000"/>
<rect x="1080.45" y="2489.90" width="39.31" height="38.23" fill="#820000"/>
<rect x="1119.26" y="2489.90" width="39.31" height="38.23" fill="#960000"/>
<rect x="1158.07" y="2489.90" width="39.31" height="38.23" fill="#af0000"/>
<rect x="498.30" y="2527.63" width="39.31" height="38.23" fill="#008200"/>
<rect x="537.11" y="2527.63" width="78.12" height="38.23" fill="#008c00"/>
<rect x="614.73" y="2527.63" width="116.93" height="38.23" fill="#00a500"/>
<rect x="731.16" y="2527.63" width="116.93" height="38.23" fill="#006e00"/>
<rect x="847.59" y="2527.63" width="39.31" height="38.23" fill="#006400"/>
<rect x="886.40" y="2527.63" width="39.31" height="38.23" fill="#007800"/>
<rect x="925.21" y="2527.63" width="39.31" height="38.23" fill="#008700"/>
<rect x="964.02" y="2527.63" width="39.31" height="38.23" fill="#c80000"/>
<rect x="1002.83" y="2527.63" width="39.31" height="38.23" fill="#d70000"/>
<rect x="1041.64" y="2527.63" width="39.31" height="38.23" fill="#d20000"/>
<rect x="1080.45" y="2527.63" width="39.31" height="38.23" fill="#960000"/>
<rect x="1119.26" y="2527.63" width="39.31" height="38.23" fill="#c30000"/>
<rect x="1158.07" y="2527.63" width="39.31" height="38.23" fill="#d20000"/>
<rect x="498.30" y="2565.36" width="116.93" height="38.23" fill="#008c00"/>
<rect x="614.73" y="2565.36" width="116.93" height="38.23" fill="#00a500"/>
<rect x="731.16" y="2565.36" width="39.31" height="38.23" fill="#007800"/>
<rect x="769.97" y="2565.36" width="78.12" height="38.23" fill="#008200"/>
<rect x="847.59" y="2565.36" width="39.31" height="38.23" fill="#006400"/>
<rect x="886.40" y="2565.36" width="39.31" height="38.23" fill="#007300"/>
<rect x="925.21" y="2565.36" width="39.31" height="38.23" fill="#008200"/>
<rect x="964.02" y="2565.36" width="39.31" height="38.23" fill="#d20000"/>
<rect x="1002.83" y="2565.36" width="39.31" height="38.23" fill="#d70000"/>
<rect x="1041.64" y="2565.36" width="39.31" height="38.23" fill="#d20000"/>
<rect x="1080.45" y="2565.36" width="39.31" height="38.23" fill="#960000"/>
<rect x="1119.26" y="2565.36" width="39.31" height="38.23" fill="#c30000"/>
<rect x="1158.07" y="2565.36" width="39.31" height="38.23" fill="#d70000"/>
<rect x="498.30" y="2603.09" width="116.93" height="38.23" fill="#008c00"/>
<rect x="614.73" y="2603.09" width="116.93" height="38.23" fill="#009b00"/>
<rect x="731.16" y="2603.09" width="39.31" height="38.23" fill="#008200"/>
<rect x="769.97" y="2603.09" width="78.12" height="38.23" fill="#008c00"/>
<rect x="847.59" y="2603.09" width="39.31" height="38.23" fill="#005000"/>
<rect x="886.40" y="2603.09" width="39.31" height="38.23" fill="#006900"/>
<rect x="925.21" y="2603.09" width="39.31" height="38.23" fill="#008200"/>
<rect x="964.02" y="2603.09" width="39.31" height="38.23" fill="#d20000"/>
<rect x="1002.83" y="2603.09" width="39.31" height="38.23" fill="#b90000"/>
<rect x="1041.64" y="2603.09" width="39.31" height="38.23" fill="#c30000"/>
<rect x="1080.45" y="2603.09" width="39.31" height="38.23" fill="#960000"/>
<rect x="1119.26" y="2603.09" width="39.31" height="38.23" fill="#c30000"/>
<rect x="1158.07" y="2603.09" width="39.31" height="38.23" fill="#e60000"/>
<rect x="498.30" y="2640.82" width="116.93" height="38.23" fill="#008c00"/>
<rect x="614.73" y="2640.82" width="116.93" height="38.23" fill="#009600"/>
<rect x="731.16" y="2640.82" width="39.31" height="38.23" fill="#008700"/>
<rect x="769.97" y="2640.82" width="78.12" height="38.23" fill="#008c00"/>
<rect x="847.59" y="2640.82" width="39.31" height="38.23" fill="#004600"/>
<rect x="886.40" y="2640.82" width="39.31" height="38.23" fill="#006400"/>
<rect x="925.21" y="2640.82" width="39.31" height="38.23" fill="#008200"/>
<rect x="964.02" y="2640.82" width="39.31" height="38.23" fill="#d20000"/>
<rect x="1002.83" y="2640.82" width="39.31" height="38.23" fill="#b90000"/>
<rect x="1041.64" y="2640.82" width="39.31" height="38.23" fill="#c30000"/>
<rect x="1080.45" y="2640.82" width="39.31" height="38.23" fill="#960000"/>
<rect x="1119.26" y="2640.82" width="39.31" height="38.23" fill="#c30000"/>
<rect x="1158.07" y="2640.82" width="39.31" height="38.23" fill="#e60000"/>
<rect x="498.30" y="2678.55" width="116.93" height="38.23" fill="#008c00"/>
<rect x="614.73" y="2678.55" width="116.93" height="38.23" fill="#009600"/>
<rect x="731.16" y="2678.55" width="116.93" height="38.23" fill="#008c00"/>
<rect x="847.59" y="2678.55" width="39.31" height="38.23" fill="#006400"/>
<rect x="886.40" y="2678.55" width="39.31" height="38.23" fill="#007300"/>
<rect x="925.21" y="2678.55" width="39.31" height="38.23" fill="#008200"/>
<rect x="964.02" y="2678.55" width="39.31" height="38.23" fill="#e60000"/>
<rect x="1002.83" y="2678.55" width="39.31" height="38.23" fill="#c30000"/>
<rect x="1041.64" y="2678.55" width="39.31" height="38.23" fill="#d20000"/>
<rect x="1080.45" y="2678.55" width="39.31" height="38.23" fill="#8c0000"/>
<rect x="1119.26" y="2678.55" width="39.31" height="38.23" fill="#c30000"/>
<rect x="1158.07" y="2678.55" width="39.31" height="38.23" fill="#dc0000"/>
<rect x="498.30" y="2716.28" width="116.93" height="38.23" fill="#009600"/>
<rect x="614.73" y="2716.28" width="39.31" height="38.23" fill="#00aa00"/>
<rect x="653.54" y="2716.28" width="39.31" height="38.23" fill="#00cd00"/>
<rect x="692.35" y="2716.28" width="39.31" height="38.23" fill="#00b900"/>
<rect x="731.16" y="2716.28" width="39.31" height="38.23" fill="#cd0000"/>
<rect x="769.97" y="2716.28" width="39.31" height="38.23" fill="#005000"/>
<rect x="808.78" y="2716.28" width="39.31" height="38.23" fill="#8c0000"/>
<rect x="847.59" y="2716.28" width="39.31" height="38.23" fill="#1e0000"/>
<rect x="886.40" y="2716.28" width="39.31" height="38.23" fill="#006e00"/>
<rect x="925.21" y="2716.28" width="39.31" height="38.23" fill="#009b00"/>
<rect x="964.02" y="2716.28" width="39.31" height="38.23" fill="#be0000"/>
<rect x="1002.83" y="2716.28" width="39.31" height="38.23" fill="#a50000"/>
<rect x="1041.64" y="2716.28" width="39.31" height="38.23" fill="#af0000"/>
<rect x="1080.45" y="2716.28" width="116.93" height="38.23" fill="#a50000"/>
<rect x="498.30" y="2754.01" width="116.93" height="38.23" fill="#910000"/>
<rect x="614.73" y="2754.01" width="39.31" height="38.23" fill="#f00000"/>
<rect x="653.54" y="2754.01" width="39.31" height="38.23" fill="#b90000"/>
<rect x="692.35" y="2754.01" width="39.31" height="38.23" fill="#d70000"/>
<rect x="731.16" y="2754.01" width="466.22" height="38.23" fill="#008700"/>
<rect x="498.30" y="2791.74" width="39.31" height="38.23" fill="#e60000"/>
<rect x="537.11" y="2791.74" width="78.12" height="38.23" fill="#d70000"/>
<rect x="614.73" y="2791.74" width="116.93" height="38.23" fill="#008700"/>
<rect x="731.16" y="2791.74" width="39.31" height="38.23" fill="#780000"/>
<rect x="769.97" y="2791.74" width="39.31" height="38.23" fill="#960000"/>
<rect x="808.78" y="2791.74" width="39.31" height="38.23" fill="#820000"/>
<rect x="847.59" y="2791.74" width="349.79" height="38.23" fill="#008700"/>
<rect x="498.30" y="2829.47" width="116.93" height="38.23" fill="#cd0000"/>
<rect x="614.73" y="2829.47" width="39.31" height="38.23" fill="#007300"/>
<rect x="653.54" y="2829.47" width="39.31" height="38.23" fill="#009100"/>
<rect x="692.35" y="2829.47" width="39.31" height="38.23" fill="#008200"/>
<rect x="731.16" y="2829.47" width="39.31" height="38.23" fill="#960000"/>
<rect x="769.97" y="2829.47" width="39.31" height="38.23" fill="#be0000"/>
<rect x="808.78" y="2829.47" width="39.31" height="38.23" fill="#aa0000"/>
<rect x="847.59" y="2829.47" width="39.31" height="38.23" fill="#005f00"/>
<rect x="886.40" y="2829.47" width="39.31" height="38.23" fill="#007800"/>
<rect x="925.21" y="2829.47" width="39.31" height="38.23" fill="#008c00"/>
<rect x="964.02" y="2829.47" width="39.31" height="38.23" fill="#009b00"/>
<rect x="1002.83" y="2829.47" width="39.31" height="38.23" fill="#00a500"/>
<rect x="1041.64" y="2829.47" width="39.31" height="38.23" fill="#00a000"/>
<rect x="1080.45" y="2829.47" width="116.93" height="38.23" fill="#008c00"/>
<rect x="498.30" y="2867.20" width="78.12" height="38.23" fill="#690000"/>
<rect x="575.92" y="2867.20" width="78.12" height="38.23" fill="#008c00"/>
<rect x="653.54" y="2867.20" width="78.12" height="38.23" fill="#690000"/>
<rect x="731.16" y="2867.20" width="39.31" height="38.23" fill="#cd0000"/>
<rect x="769.97" y="2867.20" width="39.31" height="38.23" fill="#009100"/>
<rect x="808.78" y="2867.20" width="39.31" height="38.23" fill="#6e0000"/>
<rect x="847.59" y="2867.20" width="39.31" height="38.23" fill="#008c00"/>
<rect x="886.40" y="2867.20" width="39.31" height="38.23" fill="#690000"/>
<rect x="925.21" y="2867.20" width="39.31" height="38.23" fill="#fa0000"/>
<rect x="964.02" y="2867.20" width="233.36" height="38.23" fill="#008c00"/>
</g>
<rect x="1079.2" y="980.7" width="3.5" height="1924.2" fill="#fbf800"/>
<rect x="1195.6" y="980.7" width="3.6" height="1924.2" fill="#fbf800"/>
<rect x="1199.2" y="979.7" width="4" height="1928.2" fill="#fff"/>
<rect x="490" y="2904.9" width="720" height="4" fill="#fff"/>
<path class="d" d="M479.5 1001.1H445.1V1038.8H479.5M445.1 1020.0H429.6V1076.6H479.5M479.5 1114.3H432.6V1152.0H479.5M429.6 1048.3H416.1V1133.2H432.6M479.5 1227.5H412.8V1265.2H479.5M479.5 1189.8H396.9V1246.3H412.8M416.1 1090.7H364.9V1218.0H396.9M479.5 1302.9H377.1V1340.7H479.5M364.9 1154.4H335.3V1321.8H377.1M479.5 1453.9H451.8V1491.6H479.5M479.5 1416.1H433.5V1472.7H451.8M479.5 1378.4H419.8V1444.4H433.5M479.5 1529.3H432.6V1567.0H479.5M479.5 1680.2H471.5V1718.0H479.5M479.5 1755.7H458.4V1793.4H479.5M471.5 1699.1H448.4V1774.6H458.4M479.5 1831.2H455.0V1868.9H479.5M448.4 1736.8H438.8V1850.0H455.0M479.5 1906.6H445.4V1944.3H479.5M438.8 1793.4H435.6V1925.5H445.4M479.5 1642.5H428.4V1859.5H435.6M479.5 1604.8H422.6V1751.0H428.4M479.5 1982.1H451.5V2019.8H479.5M451.5 2000.9H435.6V2057.5H479.5M435.6 2029.2H428.4V2095.3H479.5M422.6 1677.9H403.5V2062.3H428.4M432.6 1548.2H396.7V1870.1H403.5M419.8 1411.4H390.6V1709.1H396.7M335.3 1238.1H319.1V1560.3H390.6M479.5 2133.0H438.7V2170.7H479.5M438.7 2151.9H416.8V2208.5H479.5M416.8 2180.2H358.2V2246.2H479.5M319.1 1399.2H271.2V2213.2H358.2M479.5 2283.9H400.0V2321.7H479.5M400.0 2302.8H384.1V2359.4H479.5M384.1 2331.1H342.0V2397.1H479.5M342.0 2364.1H316.1V2434.8H479.5M271.2 1806.2H220.0V2399.5H316.1M479.5 2472.6H415.8V2510.3H479.5M479.5 2548.0H461.6V2585.8H479.5M479.5 2623.5H464.6V2661.2H479.5M464.6 2642.4H445.7V2698.9H479.5M461.6 2566.9H429.6V2670.7H445.7M415.8 2491.4H384.1V2618.8H429.6M384.1 2555.1H287.1V2736.7H479.5M220.0 2102.8H200.2V2645.9H287.1M479.5 2812.1H407.0V2849.9H479.5M479.5 2774.4H148.3V2831.0H407.0M148.3 2802.7H129.1V2887.6H479.5M200.2 2374.4H61.4V2845.2H129.1"/>
<text class="r" x="1215.9" y="1008.0" letter-spacing="0.23">ethyl acetate</text>
<text class="r" x="1215.9" y="1045.7" letter-spacing="0.26">ethyl propanoate</text>
<text class="r" x="1215.9" y="1083.5" letter-spacing="0.67">diacetyl</text>
<text class="r" x="1215.4" y="1121.2" letter-spacing="0.87">2-butanol acetate</text>
<text class="r" x="1214.9" y="1158.9" letter-spacing="0.99">benzaldehyde</text>
<text class="r" x="1215.3" y="1196.7" letter-spacing="0.23">3-methylbutyl acetate</text>
<text class="r" x="1215.3" y="1234.4" letter-spacing="0.84">3-methyl-1-butanol</text>
<text class="r" x="1214.9" y="1272.1" letter-spacing="1.02">propanoic acid</text>
<text class="r" x="1215.4" y="1309.8" letter-spacing="1.69">2-heptanone</text>
<text class="r" x="1214.9" y="1347.6" letter-spacing="0.68">benzyl alcohol</text>
<text class="r" x="1215.9" y="1385.3" letter-spacing="0.13">ethyl butanoate</text>
<text class="r" x="1214.9" y="1423.0" letter-spacing="0.38">propyl hexanoate</text>
<text class="r" x="1215.4" y="1460.8" letter-spacing="1.18">2,3-butanediol</text>
<text class="r" x="1215.8" y="1498.5" letter-spacing="1.08">acetic acid</text>
<text class="r" x="1215.9" y="1536.2" letter-spacing="0.21">ethyl pentanoate</text>
<text class="r" x="1214.9" y="1573.9" letter-spacing="-0.33">methyl isobutyrate</text>
<text class="r" x="1214.3" y="1611.7" letter-spacing="0.98">1-butanol</text>
<text class="r" x="1215.9" y="1649.4" letter-spacing="0.27">ethyl hexanoate</text>
<text class="r" x="1215.9" y="1687.1" letter-spacing="0.27">ethyl hexanoate</text>
<text class="r" x="1215.9" y="1724.9" letter-spacing="0.36">ethyl octanoate</text>
<text class="r" x="1215.9" y="1762.6" letter-spacing="0.55">ethyl decanoate</text>
<text class="r" x="1215.9" y="1800.3" letter-spacing="0.89">ethyl 9-decenoate</text>
<text class="r" x="1214.9" y="1838.1" letter-spacing="0.65">propyl decanoate</text>
<text class="r" x="1215.9" y="1875.8" letter-spacing="0.93">ethyl n-dodecanoate</text>
<text class="r" x="1214.9" y="1913.5" letter-spacing="0.46">propyl octanoate</text>
<text class="r" x="1215.9" y="1951.2" letter-spacing="0.39">ethyl nonanoate</text>
<text class="r" x="1214.9" y="1989.0" letter-spacing="0.95">butanoic acid</text>
<text class="r" x="1214.9" y="2026.7" letter-spacing="0.98">pentanoic acid</text>
<text class="r" x="1214.9" y="2064.4" letter-spacing="1.11">hexanoic acid</text>
<text class="r" x="1215.5" y="2102.2" letter-spacing="1.63">6-pentyl-2H-pyran-2-one</text>
<text class="r" x="1215.3" y="2139.9" letter-spacing="0.21">3-methylbutyl butanoate</text>
<text class="r" x="1215.3" y="2177.6" letter-spacing="0.63">3-methylbutanoic acid</text>
<text class="r" x="1214.9" y="2215.4" letter-spacing="0.38">phenylethyl alcohol</text>
<text class="r" x="1214.9" y="2253.1" letter-spacing="0.28">phenylethyl acetate</text>
<text class="r" x="1215.4" y="2290.8" letter-spacing="1.72">2-butanone</text>
<text class="r" x="1215.8" y="2328.6" letter-spacing="1.35">acetoin</text>
<text class="r" x="1215.4" y="2366.3" letter-spacing="2.07">2-undecanone</text>
<text class="r" x="1215.4" y="2404.0" letter-spacing="1.59">2-butanol</text>
<text class="r" x="1215.4" y="2441.7" letter-spacing="2.05">2-nonanone</text>
<text class="r" x="1215.9" y="2479.5" letter-spacing="1.03">ethanol</text>
<text class="r" x="1214.3" y="2517.2" letter-spacing="1.13">1-hexanol</text>
<text class="r" x="1214.9" y="2554.9" letter-spacing="0.98">heptanoic acid</text>
<text class="r" x="1215.9" y="2592.7" letter-spacing="1.12">octanoic acid</text>
<text class="r" x="1214.9" y="2630.4" letter-spacing="1.71">n-decanoic acid</text>
<text class="r" x="1215.7" y="2668.1" letter-spacing="1.64">9-decenoic acid</text>
<text class="r" x="1215.9" y="2705.8" letter-spacing="1.31">dodecanoic acid</text>
<text class="r" x="1214.9" y="2743.6" letter-spacing="1.25">nonanoic acid</text>
<text class="r" x="1214.9" y="2781.3" letter-spacing="1.37">hexanal</text>
<text class="r" x="1214.9" y="2819.0" letter-spacing="1.44">beta-pinene</text>
<text class="r" x="1215.9" y="2856.8" letter-spacing="0.90">d-limonene</text>
<text class="r" x="1214.9" y="2894.5" letter-spacing="1.53">phenol</text>
</svg></body></html>
